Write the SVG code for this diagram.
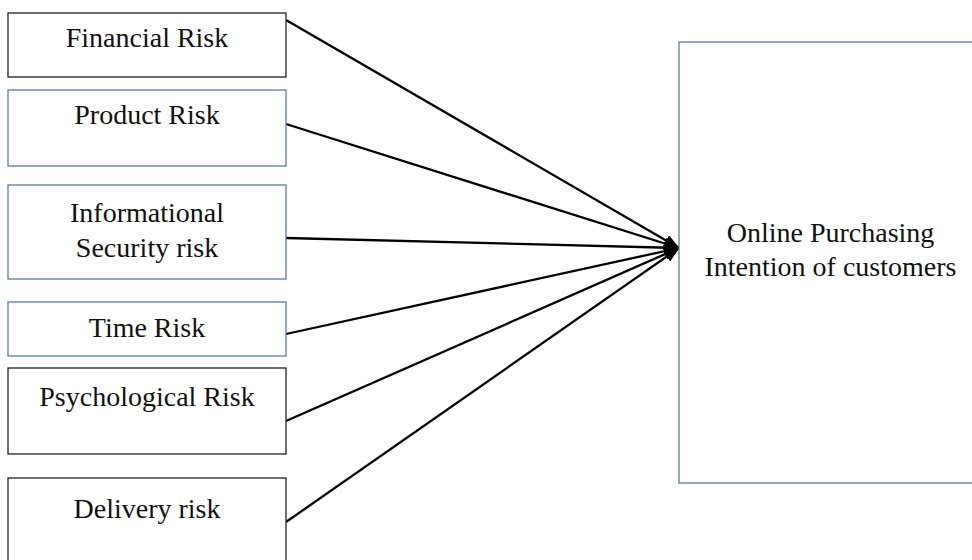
<svg xmlns="http://www.w3.org/2000/svg" width="972" height="560" viewBox="0 0 972 560">
<style>
.box{fill:#fff;stroke-width:1.3}
.blk{stroke:#222}
.blu{stroke:#5a7cb0}
.t{font-family:"Liberation Serif","Times New Roman",serif;font-size:28px;fill:#111;text-anchor:middle}
.c{stroke:#000;stroke-width:2.3;fill:none;marker-end:url(#ah)}
</style>
<defs>
<marker id="ah" markerUnits="userSpaceOnUse" markerWidth="16" markerHeight="12" refX="15" refY="6" orient="auto">
<path d="M0,0 L16,6 L0,12 z" fill="#000"/>
</marker>
</defs>
<rect width="972" height="560" fill="#fff"/>
<g id="connectors">
<line class="c" x1="286" y1="20" x2="679" y2="248"/>
<line class="c" x1="286" y1="124" x2="679" y2="248"/>
<line class="c" x1="286" y1="238" x2="679" y2="248"/>
<line class="c" x1="286" y1="334" x2="679" y2="248"/>
<line class="c" x1="286" y1="421" x2="679" y2="248"/>
<line class="c" x1="286" y1="522" x2="679" y2="248"/>
</g>
<g id="financial">
<rect class="box blk" x="8" y="13" width="278" height="64"/>
<text class="t" x="147" y="47">Financial Risk</text>
</g>
<g id="product">
<rect class="box blu" x="8" y="90" width="278" height="76"/>
<text class="t" x="147" y="124">Product Risk</text>
</g>
<g id="informational">
<rect class="box blu" x="8" y="185" width="278" height="94"/>
<text class="t" x="147" y="222">Informational</text>
<text class="t" x="147" y="257">Security risk</text>
</g>
<g id="time">
<rect class="box blu" x="8" y="302" width="278" height="54"/>
<text class="t" x="147" y="337">Time Risk</text>
</g>
<g id="psychological">
<rect class="box blk" x="8" y="368" width="278" height="86"/>
<text class="t" x="147" y="406">Psychological Risk</text>
</g>
<g id="delivery">
<rect class="box blk" x="8" y="478" width="278" height="100"/>
<text class="t" x="147" y="518">Delivery risk</text>
</g>
<g id="online">
<rect class="box blu" x="679" y="42" width="310" height="441"/>
<text class="t" x="830.5" y="242">Online Purchasing</text>
<text class="t" x="830.5" y="276">Intention of customers</text>
</g>
</svg>
